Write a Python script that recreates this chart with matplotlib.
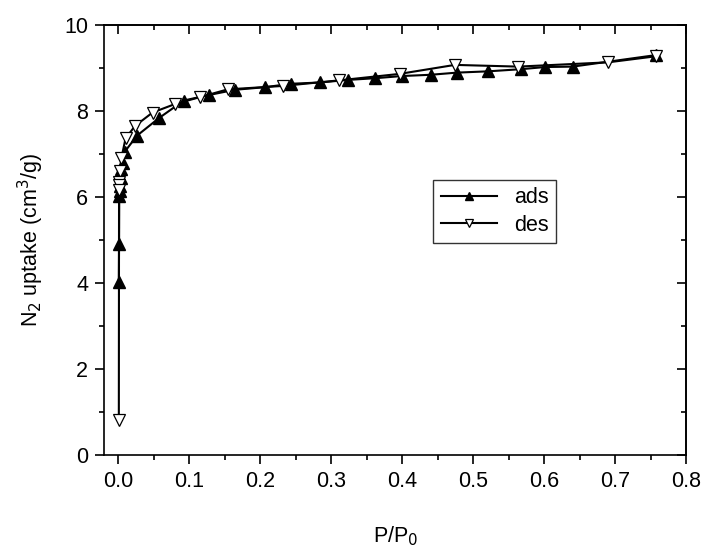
import matplotlib
matplotlib.use("Agg")
import matplotlib.pyplot as plt
from matplotlib.ticker import MultipleLocator

plt.rcParams['font.family'] = ['Liberation Sans', 'DejaVu Sans']

# Adsorption branch (P/P0, uptake)
ads_x = [0.0005, 0.0008, 0.001, 0.0015, 0.002, 0.003, 0.004, 0.006, 0.009,
         0.026, 0.057, 0.092, 0.128, 0.164, 0.206, 0.243, 0.284, 0.323,
         0.362, 0.399, 0.440, 0.477, 0.521, 0.567, 0.601, 0.640, 0.758]
ads_y = [4.01, 4.90, 6.03, 6.13, 6.25, 6.45, 6.65, 6.79, 7.06,
         7.43, 7.84, 8.25, 8.38, 8.50, 8.56, 8.64, 8.67, 8.73,
         8.77, 8.82, 8.85, 8.90, 8.93, 8.98, 9.03, 9.04, 9.31]

# Desorption branch
des_x = [0.757, 0.690, 0.563, 0.474, 0.396, 0.311, 0.232, 0.154, 0.115,
         0.080, 0.048, 0.0235, 0.010, 0.004, 0.002, 0.0012, 0.001, 0.0008,
         0.0005]
des_y = [9.28, 9.14, 9.04, 9.08, 8.87, 8.72, 8.59, 8.51, 8.33,
         8.17, 7.97, 7.66, 7.37, 6.90, 6.60, 6.36, 6.28, 6.17,
         0.81]

xtick_vals = [0.0, 0.1, 0.2, 0.3, 0.4, 0.5, 0.6, 0.7, 0.8]
xtick_labels = ['0.0', '0.1', '0.2', '0.3', '0.4', '0.5', '0.6', '0.7', '0.8']

fig = plt.figure(figsize=(7.07, 5.5), dpi=100)
ax = fig.add_axes([0.1475, 0.1735, 0.9707 - 0.1475, 0.9538 - 0.1735])

ax.plot(ads_x, ads_y, color='black', lw=1.5, marker='^', ms=8.5,
        mfc='black', mec='black', label='ads', zorder=3)
ax.plot(des_x, des_y, color='black', lw=1.5, marker='v', ms=8.5,
        mfc='white', mec='black', mew=0.9, label='des', zorder=3)

ax.set_xlim(-0.02, 0.8)
ax.set_ylim(0, 10)
ax.set_xticks(xtick_vals)
ax.set_xticklabels(xtick_labels)
ax.xaxis.set_minor_locator(MultipleLocator(0.05))
ax.yaxis.set_major_locator(MultipleLocator(2))
ax.yaxis.set_minor_locator(MultipleLocator(1))

for s in ax.spines.values():
    s.set_linewidth(1.2)

ax.tick_params(axis='both', which='major', direction='out', length=6.5,
               width=1.2, labelsize=15.5, pad=5)
ax.tick_params(axis='both', which='minor', direction='out', length=3.5,
               width=1.2)
# mirrored inward ticks on top and right
axt = ax.secondary_xaxis('top')
axt.xaxis.set_major_locator(MultipleLocator(0.1))
axt.xaxis.set_minor_locator(MultipleLocator(0.05))
axt.tick_params(which='major', direction='in', length=6.5, width=1.2, labeltop=False)
axt.tick_params(which='minor', direction='in', length=3.5, width=1.2)
axr = ax.secondary_yaxis('right')
axr.yaxis.set_major_locator(MultipleLocator(2))
axr.yaxis.set_minor_locator(MultipleLocator(1))
axr.tick_params(which='major', direction='in', length=6.5, width=1.2, labelright=False)
axr.tick_params(which='minor', direction='in', length=3.5, width=1.2)
axt.spines['top'].set_linewidth(1.2)
axr.spines['right'].set_linewidth(1.2)

ax.set_xlabel('P/P$_0$', fontsize=15.5, labelpad=24)
ax.set_ylabel('N$_2$ uptake (cm$^3$/g)', fontsize=15.5, labelpad=13)

leg = ax.legend(loc='upper left', bbox_to_anchor=(0.565, 0.64), borderaxespad=0,
                fontsize=15.5, frameon=True, fancybox=False, edgecolor='black',
                handlelength=2.6, markerscale=0.7, labelspacing=0.3,
                handletextpad=0.8, borderpad=0.35)
leg.get_frame().set_linewidth(1.0)

fig.savefig('out.png', dpi=100)
